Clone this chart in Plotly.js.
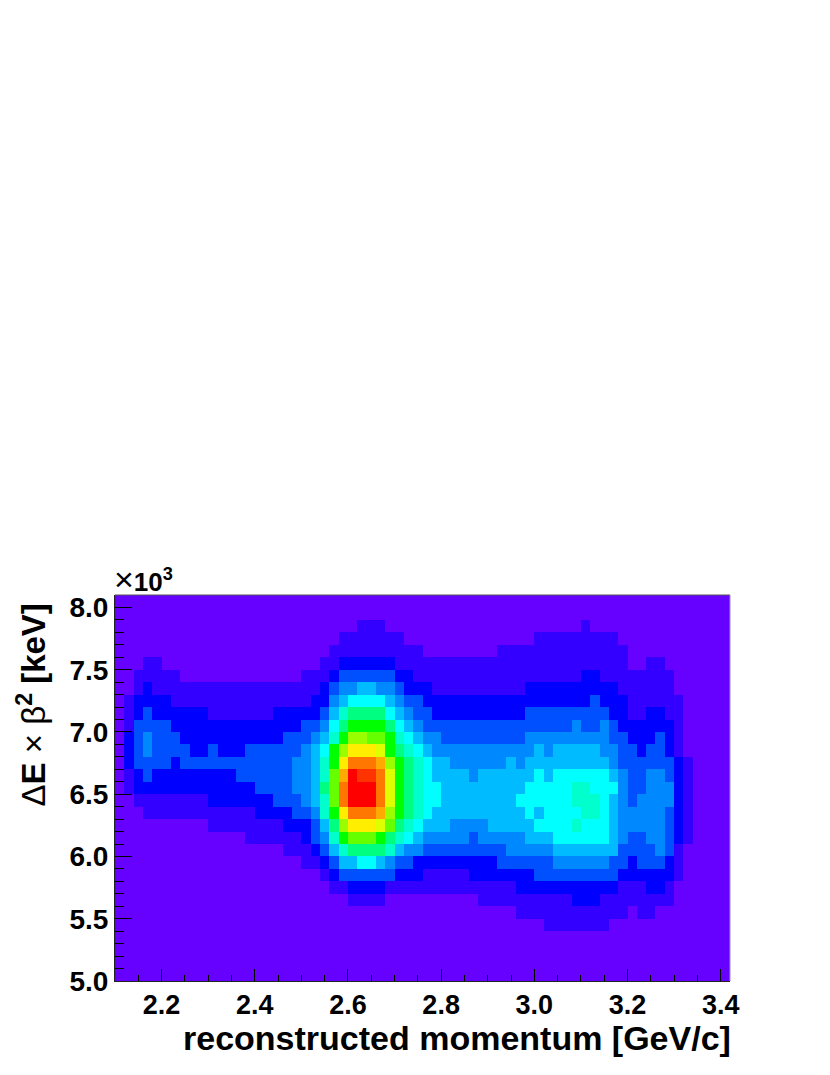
<!DOCTYPE html>
<html>
<head>
<meta charset="utf-8">
<script src="https://cdn.plot.ly/plotly-3.0.1.min.js"></script>
<style>
  html, body { margin: 0; padding: 0; background: #fff; }
</style>
</head>
<body>
<div id="chart" style="width:830px;height:1075px"></div>
<script>
// bin centres, 0.02 GeV/c and 0.1 (x10^3 keV) wide
const momentumBins = [
  2.11, 2.13, 2.15, 2.17, 2.19, 2.21, 2.23, 2.25, 2.27, 2.29,
  2.31, 2.33, 2.35, 2.37, 2.39, 2.41, 2.43, 2.45, 2.47, 2.49,
  2.51, 2.53, 2.55, 2.57, 2.59, 2.61, 2.63, 2.65, 2.67, 2.69,
  2.71, 2.73, 2.75, 2.77, 2.79, 2.81, 2.83, 2.85, 2.87, 2.89,
  2.91, 2.93, 2.95, 2.97, 2.99, 3.01, 3.03, 3.05, 3.07, 3.09,
  3.11, 3.13, 3.15, 3.17, 3.19, 3.21, 3.23, 3.25, 3.27, 3.29,
  3.31, 3.33, 3.35, 3.37, 3.39, 3.41,
];
const energyBins = [
  8.05, 7.95, 7.85, 7.75, 7.65, 7.55, 7.45, 7.35, 7.25, 7.15, 7.05,
  6.95, 6.85, 6.75, 6.65, 6.55, 6.45, 6.35, 6.25, 6.15, 6.05,
  5.95, 5.85, 5.75, 5.65, 5.55, 5.45, 5.35, 5.25, 5.15, 5.05,
];

// colour level of each bin, top row first
const counts = [
  [0,0,0,0,0,0,0,0,0,0, 0,0,0,0,0,0,0,0,0,0, 0,0,0,0,0,0,0,0,0,0, 0,0,0,0,0,0,0,0,0,0, 0,0,0,0,0,0,0,0,0,0, 0,0,0,0,0,0,0,0,0,0, 0,0,0,0,0,0],
  [0,0,0,0,0,0,0,0,0,0, 0,0,0,0,0,0,0,0,0,0, 0,0,0,0,0,0,0,0,0,0, 0,0,0,0,0,0,0,0,0,0, 0,0,0,0,0,0,0,0,0,0, 0,0,0,0,0,0,0,0,0,0, 0,0,0,0,0,0],
  [0,0,0,0,0,0,0,0,0,0, 0,0,0,0,0,0,0,0,0,0, 0,0,0,0,0,0,1,1,1,0, 0,0,0,0,0,0,0,0,0,0, 0,0,0,0,0,0,0,0,0,0, 1,0,0,0,0,0,0,0,0,0, 0,0,0,0,0,0],
  [0,0,0,0,0,0,0,0,0,0, 0,0,0,0,0,0,0,0,0,0, 0,0,0,0,1,1,1,1,1,1, 1,0,0,0,0,0,0,0,0,0, 0,0,0,0,0,1,1,1,1,1, 1,1,1,1,0,0,0,0,0,0, 0,0,0,0,0,0],
  [0,0,0,0,0,0,0,0,0,0, 0,0,0,0,0,0,0,0,0,0, 0,0,0,1,1,1,1,1,1,1, 1,1,1,0,0,0,0,0,0,0, 0,1,1,1,1,1,1,1,1,1, 1,1,1,1,1,0,0,0,0,0, 0,0,0,0,0,0],
  [0,0,0,1,1,0,0,0,0,0, 0,0,0,0,0,0,0,0,0,0, 0,0,1,1,2,2,2,2,2,2, 1,1,1,1,1,1,1,1,1,1, 1,1,1,1,1,1,1,1,1,1, 1,1,1,1,1,0,0,1,1,0, 0,0,0,0,0,0],
  [0,0,1,1,1,1,1,0,0,0, 0,0,0,0,0,0,0,0,0,0, 1,1,1,2,3,3,3,3,3,3, 2,2,1,1,1,1,1,1,1,1, 1,1,1,1,1,1,1,1,1,1, 2,2,1,1,1,1,1,1,1,1, 0,0,0,0,0,0],
  [0,0,1,2,1,1,1,1,1,1, 1,1,1,1,1,1,1,1,1,1, 1,1,2,3,4,4,5,5,4,4, 3,2,2,2,1,1,1,1,1,1, 1,1,1,1,2,2,2,2,2,2, 2,2,2,2,1,1,1,1,1,1, 0,0,0,0,0,0],
  [0,1,2,2,2,2,1,1,1,1, 1,1,1,1,1,1,1,1,1,1, 1,2,2,4,5,6,6,6,6,5, 4,3,3,2,2,2,2,2,2,2, 2,2,2,2,2,2,2,2,2,2, 2,3,2,2,2,1,1,1,1,1, 1,0,0,0,0,0],
  [0,1,2,3,2,2,2,2,2,2, 1,1,1,1,1,1,1,2,2,2, 2,2,3,5,7,8,8,8,8,6, 5,4,3,3,2,2,2,2,2,2, 2,2,2,2,3,3,3,3,3,3, 3,3,3,2,2,1,1,2,2,1, 1,0,0,0,0,0],
  [0,1,3,3,3,3,2,2,2,2, 2,2,2,2,2,2,2,2,2,2, 3,3,4,6,8,9,9,9,9,8, 6,5,4,3,3,3,3,3,3,3, 3,3,3,3,3,3,3,3,3,4, 3,3,4,3,2,2,2,2,2,2, 1,0,0,0,0,0],
  [0,2,3,4,3,3,3,2,2,2, 2,2,2,2,2,2,2,2,3,3, 3,4,5,7,9,11,11,10,10,9, 7,6,5,4,4,3,3,3,3,3, 3,3,3,3,4,4,4,4,4,4, 4,4,4,3,3,2,2,2,3,2, 1,0,0,0,0,0],
  [0,2,3,4,3,3,3,3,2,2, 3,2,2,2,3,3,3,3,3,3, 4,5,6,9,11,13,13,13,12,9, 8,7,6,5,4,4,4,4,4,4, 4,4,4,4,4,5,4,5,5,5, 5,5,4,4,3,3,2,3,3,2, 1,0,0,0,0,0],
  [0,2,3,3,3,3,2,3,3,3, 3,3,3,3,3,3,3,3,3,4, 4,5,7,9,13,15,15,15,14,11, 9,8,7,6,5,5,4,4,4,4, 4,4,5,4,5,5,5,5,5,5, 5,5,5,4,3,3,3,3,3,3, 2,1,0,0,0,0],
  [0,1,2,3,2,2,2,2,2,2, 2,2,2,3,3,3,3,3,3,4, 4,5,7,10,14,17,16,16,15,12, 9,8,7,6,5,5,5,5,4,5, 5,5,5,5,5,6,5,6,6,6, 6,6,6,5,4,3,3,4,4,3, 2,1,0,0,0,0],
  [0,1,2,2,2,2,2,2,2,2, 2,2,2,2,2,3,3,3,3,4, 4,5,8,10,15,17,17,17,15,12, 9,8,7,6,6,5,5,5,5,5, 5,5,5,5,6,6,6,6,6,7, 7,6,6,6,4,3,3,4,4,4, 2,1,0,0,0,0],
  [0,0,1,1,1,1,1,1,1,1, 2,2,2,2,2,2,2,3,3,3, 4,5,7,10,15,17,17,17,15,12, 9,8,7,6,6,5,5,5,5,5, 5,5,5,6,6,6,6,6,6,7, 7,7,6,5,4,3,4,4,4,4, 2,1,0,0,0,0],
  [0,0,0,1,1,1,1,1,1,1, 1,1,1,1,1,2,2,2,2,3, 3,4,7,9,13,15,15,15,14,11, 9,8,7,6,5,5,5,5,5,5, 5,5,5,5,6,5,6,6,6,6, 7,7,6,5,4,4,4,4,4,3, 2,1,0,0,0,0],
  [0,0,0,0,0,0,0,0,0,0, 1,1,1,1,1,1,1,1,2,2, 2,3,5,8,11,13,13,13,12,10, 8,7,6,5,5,5,4,4,4,4, 5,5,5,5,5,6,6,6,6,7, 6,6,6,5,4,4,4,4,4,3, 2,1,0,0,0,0],
  [0,0,0,0,0,0,0,0,0,0, 0,0,0,0,1,1,1,1,1,1, 2,3,4,7,9,10,10,10,9,8, 7,6,5,4,4,4,4,4,3,4, 4,4,4,4,5,5,5,6,6,6, 6,6,6,5,4,3,3,4,4,3, 2,1,0,0,0,0],
  [0,0,0,0,0,0,0,0,0,0, 0,0,0,0,0,0,0,0,1,1, 1,2,3,5,7,8,8,8,8,7, 5,4,4,3,3,3,3,3,3,3, 3,3,4,4,4,4,4,5,5,5, 5,5,5,5,3,3,3,3,4,3, 1,0,0,0,0,0],
  [0,0,0,0,0,0,0,0,0,0, 0,0,0,0,0,0,0,0,0,0, 1,1,2,3,5,5,6,6,5,4, 3,3,2,2,2,2,2,2,2,2, 2,3,3,3,3,3,3,4,4,4, 4,4,4,3,3,2,3,3,3,2, 1,0,0,0,0,0],
  [0,0,0,0,0,0,0,0,0,0, 0,0,0,0,0,0,0,0,0,0, 0,0,1,2,3,3,3,3,3,3, 2,2,2,1,1,1,1,1,2,2, 2,2,2,2,2,3,3,3,3,3, 3,3,3,3,2,2,2,2,2,2, 1,0,0,0,0,0],
  [0,0,0,0,0,0,0,0,0,0, 0,0,0,0,0,0,0,0,0,0, 0,0,0,1,1,2,2,2,2,1, 1,1,1,1,1,1,1,1,1,1, 1,1,1,2,2,2,2,2,2,2, 2,2,2,2,1,1,1,2,2,1, 0,0,0,0,0,0],
  [0,0,0,0,0,0,0,0,0,0, 0,0,0,0,0,0,0,0,0,0, 0,0,0,0,0,1,1,1,1,0, 0,0,0,0,0,0,0,0,0,1, 1,1,1,1,1,1,1,1,1,2, 2,2,1,1,1,1,1,1,1,1, 0,0,0,0,0,0],
  [0,0,0,0,0,0,0,0,0,0, 0,0,0,0,0,0,0,0,0,0, 0,0,0,0,0,0,0,0,0,0, 0,0,0,0,0,0,0,0,0,0, 0,0,0,1,1,1,1,1,1,1, 1,1,1,1,1,0,1,1,0,0, 0,0,0,0,0,0],
  [0,0,0,0,0,0,0,0,0,0, 0,0,0,0,0,0,0,0,0,0, 0,0,0,0,0,0,0,0,0,0, 0,0,0,0,0,0,0,0,0,0, 0,0,0,0,0,0,1,1,1,1, 1,1,1,0,0,0,0,0,0,0, 0,0,0,0,0,0],
  [0,0,0,0,0,0,0,0,0,0, 0,0,0,0,0,0,0,0,0,0, 0,0,0,0,0,0,0,0,0,0, 0,0,0,0,0,0,0,0,0,0, 0,0,0,0,0,0,0,0,0,0, 0,0,0,0,0,0,0,0,0,0, 0,0,0,0,0,0],
  [0,0,0,0,0,0,0,0,0,0, 0,0,0,0,0,0,0,0,0,0, 0,0,0,0,0,0,0,0,0,0, 0,0,0,0,0,0,0,0,0,0, 0,0,0,0,0,0,0,0,0,0, 0,0,0,0,0,0,0,0,0,0, 0,0,0,0,0,0],
  [0,0,0,0,0,0,0,0,0,0, 0,0,0,0,0,0,0,0,0,0, 0,0,0,0,0,0,0,0,0,0, 0,0,0,0,0,0,0,0,0,0, 0,0,0,0,0,0,0,0,0,0, 0,0,0,0,0,0,0,0,0,0, 0,0,0,0,0,0],
  [0,0,0,0,0,0,0,0,0,0, 0,0,0,0,0,0,0,0,0,0, 0,0,0,0,0,0,0,0,0,0, 0,0,0,0,0,0,0,0,0,0, 0,0,0,0,0,0,0,0,0,0, 0,0,0,0,0,0,0,0,0,0, 0,0,0,0,0,0],
];

// rainbow palette, one colour per level
const levelColors = [
  "#6600ff", "#3300ff", "#0000ff", "#0050ff", "#0088ff", "#00bbff",
  "#00ffff", "#00ffcc", "#00ff80", "#00ff00", "#66ff00", "#99ff00",
  "#ddff00", "#ffee00", "#ffaa00", "#ff7700", "#ff3300", "#ff0000",
];

const topLevel = levelColors.length - 1;
const colorscale = levelColors.map((c, i) => [i / topLevel, c]);

const FONT = "Liberation Sans, Arial, sans-serif";
const SYMBOL = 'font-weight:normal';

const trace = {
  type: "heatmap",
  x: momentumBins,
  y: energyBins,
  z: counts,
  zmin: 0,
  zmax: topLevel,
  colorscale: colorscale,
  showscale: false,
  hoverinfo: "x+y+z",
};

const layout = {
  width: 830,
  height: 1075,
  margin: { l: 115, r: 99.5, t: 595, b: 94, pad: 0 },
  paper_bgcolor: "#fff",
  plot_bgcolor: "#6600ff",
  font: { family: FONT, color: "#000" },
  showlegend: false,
  xaxis: {
    range: [2.1, 3.42],
    dtick: 0.2,
    tick0: 2.0,
    tickformat: ".1f",
    ticks: "inside",
    ticklen: 12,
    tickwidth: 1,
    tickcolor: "#000",
    tickfont: { family: FONT, size: 27, weight: "bold" },
    minor: { dtick: 0.05, tick0: 2.0, ticks: "inside", ticklen: 6, tickwidth: 1, tickcolor: "#000" },
    showgrid: false,
    zeroline: false,
    showline: true,
    linecolor: "#222",
    linewidth: 1,
  },
  yaxis: {
    range: [5.0, 8.1],
    dtick: 0.5,
    tick0: 5.0,
    tickformat: ".1f",
    ticks: "inside",
    ticklen: 17,
    tickwidth: 1,
    tickcolor: "#000",
    tickfont: { family: FONT, size: 28, weight: "bold" },
    minor: { dtick: 0.1, tick0: 5.0, ticks: "inside", ticklen: 8.5, tickwidth: 1, tickcolor: "#000" },
    showgrid: false,
    zeroline: false,
    showline: true,
    linecolor: "#222",
    linewidth: 1,
  },
  // top edge is a darker grey, right edge barely shows
  shapes: [
    { type: "line", xref: "paper", yref: "paper", x0: 0, x1: 1, y0: 1, y1: 1, line: { color: "#555", width: 1 } },
    { type: "line", xref: "paper", yref: "paper", x0: 1, x1: 1, y0: 0, y1: 1, line: { color: "#9a88e0", width: 1 } },
  ],
  annotations: [
    {
      text: "reconstructed momentum [GeV/c]",
      xref: "paper", yref: "paper", x: 1, y: 0,
      xanchor: "right", yanchor: "top", xshift: 3, yshift: -36,
      showarrow: false,
      font: { family: FONT, size: 34, weight: "bold" },
    },
    {
      text: `<span style="${SYMBOL}">\u0394</span>E <span style="${SYMBOL}">\u00d7 \u03b2</span><sup>2</sup> [keV]`,
      xref: "paper", yref: "paper", x: 0, y: 1,
      xanchor: "center", yanchor: "top", xshift: -84, yshift: -7,
      textangle: -90,
      showarrow: false,
      font: { family: FONT, size: 33, weight: "bold" },
    },
    {
      text: `<span style="${SYMBOL};font-size:34px">\u00d7</span>10<sup>3</sup>`,
      xref: "paper", yref: "paper", x: 0, y: 1,
      xanchor: "left", yanchor: "bottom", xshift: -3, yshift: -5,
      showarrow: false,
      font: { family: FONT, size: 26, weight: "bold" },
    },
  ],
};

Plotly.newPlot("chart", [trace], layout, { displayModeBar: false, staticPlot: true });
</script>
</body>
</html>
